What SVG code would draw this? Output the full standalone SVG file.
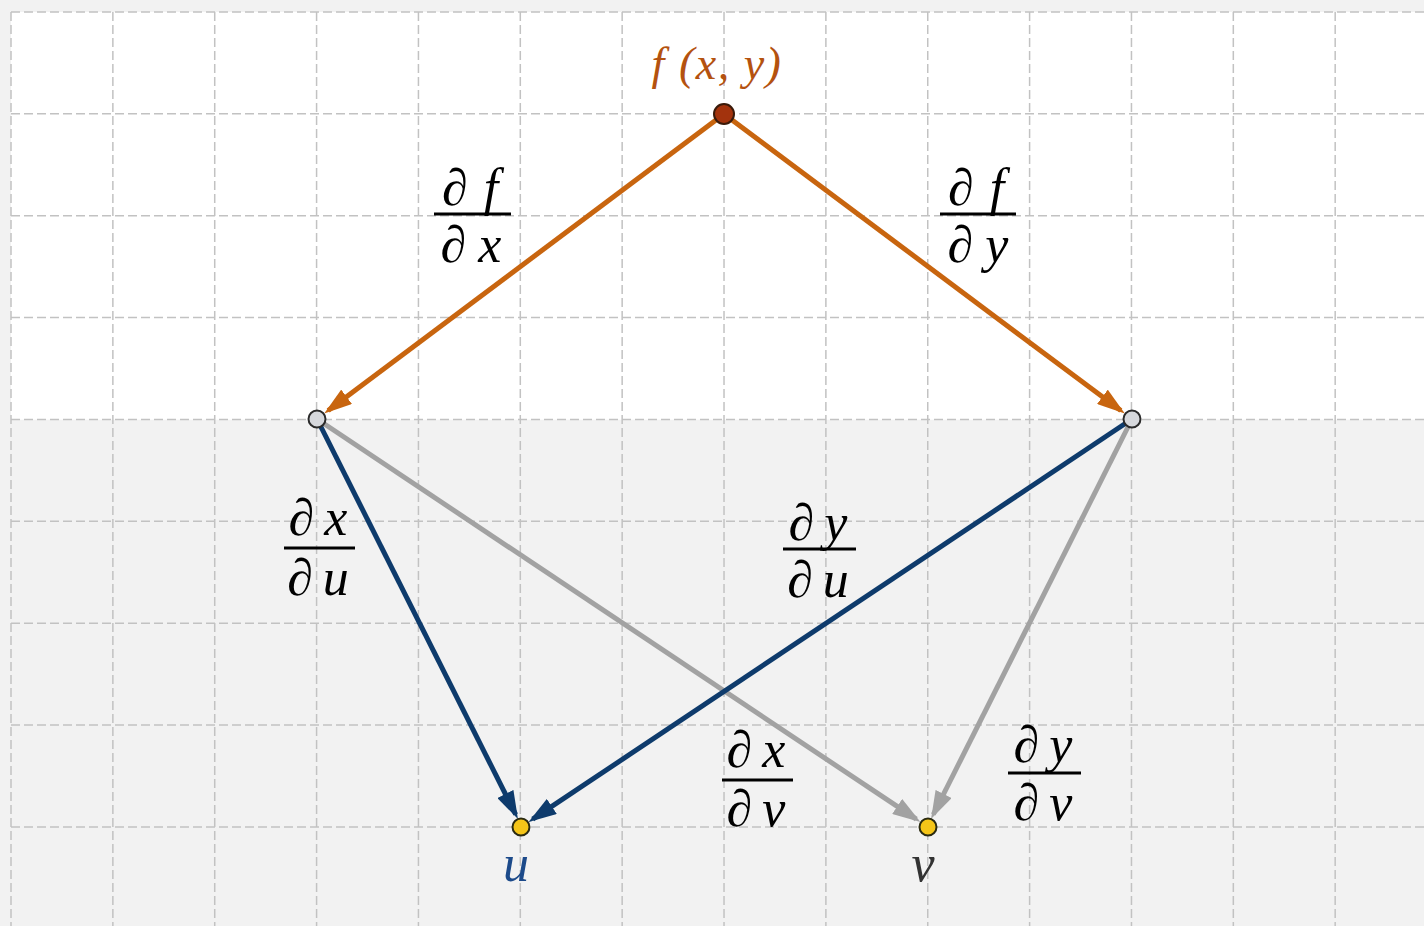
<svg xmlns="http://www.w3.org/2000/svg" width="1424" height="926" viewBox="0 0 1424 926">
<defs>
<style>
.grid line{stroke:#c2c2c2;stroke-width:1.5;stroke-dasharray:9 4;}
.or{stroke:#c8650f;stroke-width:5;fill:none;}
.bl{stroke:#0e3b6c;stroke-width:5;fill:none;}
.gr{stroke:#a2a2a2;stroke-width:5;fill:none;}
.m{font-family:"Liberation Serif","Times New Roman",serif;font-size:52px;fill:#000;}
.it{font-style:italic;}
.bar{stroke:#000;stroke-width:3;}
</style>
<marker id="aO" viewBox="0 0 28 18" refX="23" refY="9" markerWidth="28" markerHeight="18" markerUnits="userSpaceOnUse" orient="auto"><path d="M0,0 L28,9 L0,18 z" fill="#c8650f"/></marker>
<marker id="aB" viewBox="0 0 28 18" refX="23" refY="9" markerWidth="28" markerHeight="18" markerUnits="userSpaceOnUse" orient="auto"><path d="M0,0 L28,9 L0,18 z" fill="#0e3b6c"/></marker>
<marker id="aG" viewBox="0 0 28 18" refX="23" refY="9" markerWidth="28" markerHeight="18" markerUnits="userSpaceOnUse" orient="auto"><path d="M0,0 L28,9 L0,18 z" fill="#a2a2a2"/></marker>
</defs>
<rect x="0" y="0" width="1424" height="926" fill="#f2f2f2"/>
<rect x="11" y="12" width="1413" height="407.7" fill="#ffffff"/>
<g class="grid">
<line x1="11" y1="12" x2="11" y2="926"/>
<line x1="112.86" y1="12" x2="112.86" y2="926"/>
<line x1="214.72" y1="12" x2="214.72" y2="926"/>
<line x1="316.58" y1="12" x2="316.58" y2="926"/>
<line x1="418.44" y1="12" x2="418.44" y2="926"/>
<line x1="520.3" y1="12" x2="520.3" y2="926"/>
<line x1="622.16" y1="12" x2="622.16" y2="926"/>
<line x1="724.02" y1="12" x2="724.02" y2="926"/>
<line x1="825.88" y1="12" x2="825.88" y2="926"/>
<line x1="927.74" y1="12" x2="927.74" y2="926"/>
<line x1="1029.6" y1="12" x2="1029.6" y2="926"/>
<line x1="1131.46" y1="12" x2="1131.46" y2="926"/>
<line x1="1233.32" y1="12" x2="1233.32" y2="926"/>
<line x1="1335.18" y1="12" x2="1335.18" y2="926"/>
<line x1="11" y1="12" x2="1424" y2="12"/>
<line x1="11" y1="113.86" x2="1424" y2="113.86"/>
<line x1="11" y1="215.72" x2="1424" y2="215.72"/>
<line x1="11" y1="317.58" x2="1424" y2="317.58"/>
<line x1="11" y1="419.44" x2="1424" y2="419.44"/>
<line x1="11" y1="521.3" x2="1424" y2="521.3"/>
<line x1="11" y1="623.16" x2="1424" y2="623.16"/>
<line x1="11" y1="725.02" x2="1424" y2="725.02"/>
<line x1="11" y1="826.88" x2="1424" y2="826.88"/>
</g>
<g id="connectors">
<line class="gr" x1="317" y1="419" x2="916.3" y2="819.2" marker-end="url(#aG)"/>
<line class="gr" x1="1132" y1="419" x2="933.3" y2="814.5" marker-end="url(#aG)"/>
<line class="bl" x1="317" y1="419" x2="515.7" y2="814.5" marker-end="url(#aB)"/>
<line class="bl" x1="1132" y1="419" x2="532.7" y2="819.2" marker-end="url(#aB)"/>
<line class="or" x1="724" y1="114" x2="328.2" y2="410.6" marker-end="url(#aO)"/>
<line class="or" x1="724" y1="114" x2="1120.8" y2="410.6" marker-end="url(#aO)"/>
</g>
<g id="labels">
<g id="dfdx"><text class="m" x="470" y="205" text-anchor="middle">∂<tspan class="it" dx="16">f</tspan></text><line class="bar" x1="434" y1="214" x2="511" y2="214"/><text class="m" x="471" y="262" text-anchor="middle">∂<tspan class="it" dx="12">x</tspan></text></g>
<g id="dfdy"><text class="m" x="976" y="205" text-anchor="middle">∂<tspan class="it" dx="16">f</tspan></text><line class="bar" x1="940" y1="214" x2="1016" y2="214"/><text class="m" x="978" y="262" text-anchor="middle">∂<tspan class="it" dx="12">y</tspan></text></g>
<g id="dxdu"><text class="m" x="318" y="535" text-anchor="middle">∂<tspan class="it" dx="10">x</tspan></text><line class="bar" x1="284" y1="548" x2="355" y2="548"/><text class="m" x="318" y="595" text-anchor="middle">∂<tspan class="it" dx="10">u</tspan></text></g>
<g id="dydu"><text class="m" x="818" y="540" text-anchor="middle">∂<tspan class="it" dx="10">y</tspan></text><line class="bar" x1="783" y1="549" x2="856" y2="549"/><text class="m" x="818" y="597" text-anchor="middle">∂<tspan class="it" dx="10">u</tspan></text></g>
<g id="dxdv"><text class="m" x="756" y="767" text-anchor="middle">∂<tspan class="it" dx="10">x</tspan></text><line class="bar" x1="722" y1="780" x2="793" y2="780"/><text class="m" x="756" y="826" text-anchor="middle">∂<tspan class="it" dx="10">v</tspan></text></g>
<g id="dydv"><text class="m" x="1043" y="762" text-anchor="middle">∂<tspan class="it" dx="10">y</tspan></text><line class="bar" x1="1008" y1="773" x2="1081" y2="773"/><text class="m" x="1043" y="820" text-anchor="middle">∂<tspan class="it" dx="10">v</tspan></text></g>
</g>
<g id="node-f"><circle cx="724" cy="114" r="10" fill="#a3330d" stroke="#3a1a0a" stroke-width="2"/><text x="717" y="79" text-anchor="middle" font-family="Liberation Serif, serif" font-style="italic" font-size="46" fill="#b4520f" letter-spacing="1.5">f (x, y)</text></g>
<g id="node-x"><circle cx="317" cy="419" r="8.5" fill="#d6d8dc" stroke="#2a2a2a" stroke-width="2"/></g>
<g id="node-y"><circle cx="1132" cy="419" r="8.5" fill="#d6d8dc" stroke="#2a2a2a" stroke-width="2"/></g>
<g id="node-u"><circle cx="521" cy="827" r="8.5" fill="#f5c518" stroke="#2a2a10" stroke-width="2"/><text x="516" y="881" text-anchor="middle" font-family="Liberation Serif, serif" font-style="italic" font-size="52" fill="#1c4a8a">u</text></g>
<g id="node-v"><circle cx="928" cy="827" r="8.5" fill="#f5c518" stroke="#2a2a10" stroke-width="2"/><text x="923" y="881" text-anchor="middle" font-family="Liberation Serif, serif" font-style="italic" font-size="52" fill="#333333">v</text></g>
</svg>
